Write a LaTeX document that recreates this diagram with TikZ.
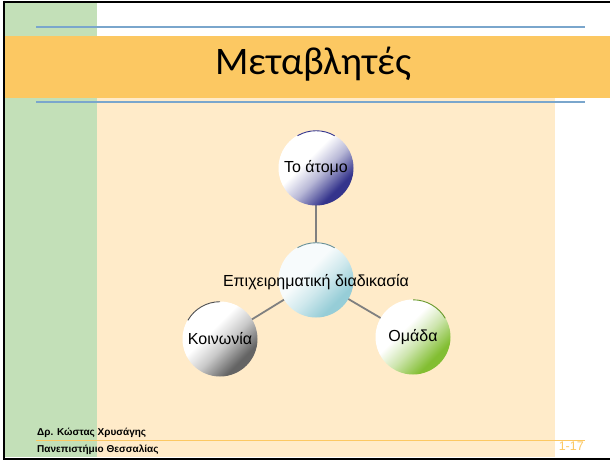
\documentclass[tikz,border=0pt]{standalone}
\usepackage{fontspec}
\setmainfont{Liberation Sans}
\newfontfamily\titlefont{Carlito}
\definecolor{sgreen}{RGB}{195,224,184}
\definecolor{sorange}{RGB}{252,200,98}
\definecolor{scream}{RGB}{255,235,201}
\definecolor{sblue}{RGB}{122,166,204}
\definecolor{cnavy}{RGB}{52,52,140}
\definecolor{ccyan}{RGB}{150,205,215}
\definecolor{cgray}{RGB}{100,100,100}
\definecolor{cgreen}{RGB}{130,190,50}
\definecolor{edgegray}{RGB}{128,128,128}
\pgfdeclareverticalshading{bubnavy}{100bp}{color(0bp)=(cnavy); color(30bp)=(cnavy); color(45bp)=(cnavy!35!white); color(58bp)=(white); color(100bp)=(white)}
\pgfdeclareverticalshading{bubcyan}{100bp}{color(0bp)=(ccyan); color(30bp)=(ccyan); color(45bp)=(ccyan!45!white); color(58bp)=(ccyan!8!white); color(100bp)=(ccyan!8!white)}
\pgfdeclareverticalshading{bubgray}{100bp}{color(0bp)=(cgray); color(30bp)=(cgray); color(45bp)=(cgray!35!white); color(58bp)=(white); color(100bp)=(white)}
\pgfdeclareverticalshading{bubgreen}{100bp}{color(0bp)=(cgreen); color(30bp)=(cgreen); color(45bp)=(cgreen!40!white); color(58bp)=(white); color(100bp)=(white)}
\tikzset{
  bubble/.style={circle, minimum size=75pt, inner sep=0pt, font=\fontsize{16}{18}\selectfont,
    shading angle=45},
  link/.style={draw=edgegray, line width=1.8pt},
  rim/.style={line width=0.9pt},
  foot/.style={font=\bfseries\fontsize{10}{11}\selectfont, anchor=west, inner sep=0pt}
}
\begin{document}
\begin{tikzpicture}[x=1pt,y=-1pt]
\useasboundingbox (0,0) rectangle (610,461);
\fill[white] (0,0) rectangle (610,461);
% backgrounds
\fill[scream] (97,98) rectangle (555,457);
\fill[sgreen] (5,3) rectangle (97,457);
\fill[sorange] (5,36) rectangle (610,98);
% frame
\draw[black, line width=2pt] (4,1.5) -- (610,1.5);
\draw[black, line width=2.5pt] (4,0.5) -- (4,459);
\draw[black, line width=2pt] (3,458.5) -- (610,458.5);
% blue rules
\draw[sblue, line width=1.2pt] (36,27) -- (585,27);
\draw[sblue, line width=1.2pt] (36,102) -- (585,102);
% title
\node (title) at (313,64) {\titlefont\fontsize{39}{42}\selectfont Μεταβλητές};
% connectors (behind circles)
\coordinate (pa) at (316,168);
\coordinate (pc) at (316,280);
\coordinate (pk) at (220,339);
\coordinate (po) at (413,337);
\draw[link] (pa) -- (pc);
\draw[link] (pc) -- (pk);
\draw[link] (pc) -- (po);
% circles
\node[bubble, shading=bubnavy] (atomo) at (pa) {Το άτομο};
\node[bubble, shading=bubcyan] (center) at (pc) {};
\node[bubble, shading=bubgray] (koin) at (pk) {Κοινωνία};
\node[bubble, shading=bubgreen] (omada) at (po) {Ομάδα};
\node[font=\fontsize{16}{18}\selectfont] (ctext) at (316,282) {Επιχειρηματική διαδικασία};
% rim accents
\draw[rim, cnavy] ([shift={(-0.2,0.35)}]atomo.60) arc[start angle=-60, end angle=-120, radius=37.1];
\draw[rim, ccyan!70!black] ([shift={(-0.2,0.35)}]center.60) arc[start angle=-60, end angle=-120, radius=37.1];
\draw[rim, cgray!80!black] ([shift={(0,0.4)}]koin.90) arc[start angle=-90, end angle=-150, radius=37.1];
\draw[rim, cgreen!80!black] ([shift={(-0.35,0.2)}]omada.30) arc[start angle=-30, end angle=-90, radius=37.1];
% footer
\draw[sorange, line width=1.2pt] (36,440.5) -- (585,440.5);
\node[foot] (auth) at (37,433) {Δρ. Κώστας Χρυσάγης};
\node[foot] (univ) at (37,450) {Πανεπιστήμιο Θεσσαλίας};
\node[anchor=north east, inner sep=0pt, text=sorange, font=\fontsize{12.5}{13}\selectfont] (pg) at (584,441.5) {1-17};
\end{tikzpicture}
\end{document}
